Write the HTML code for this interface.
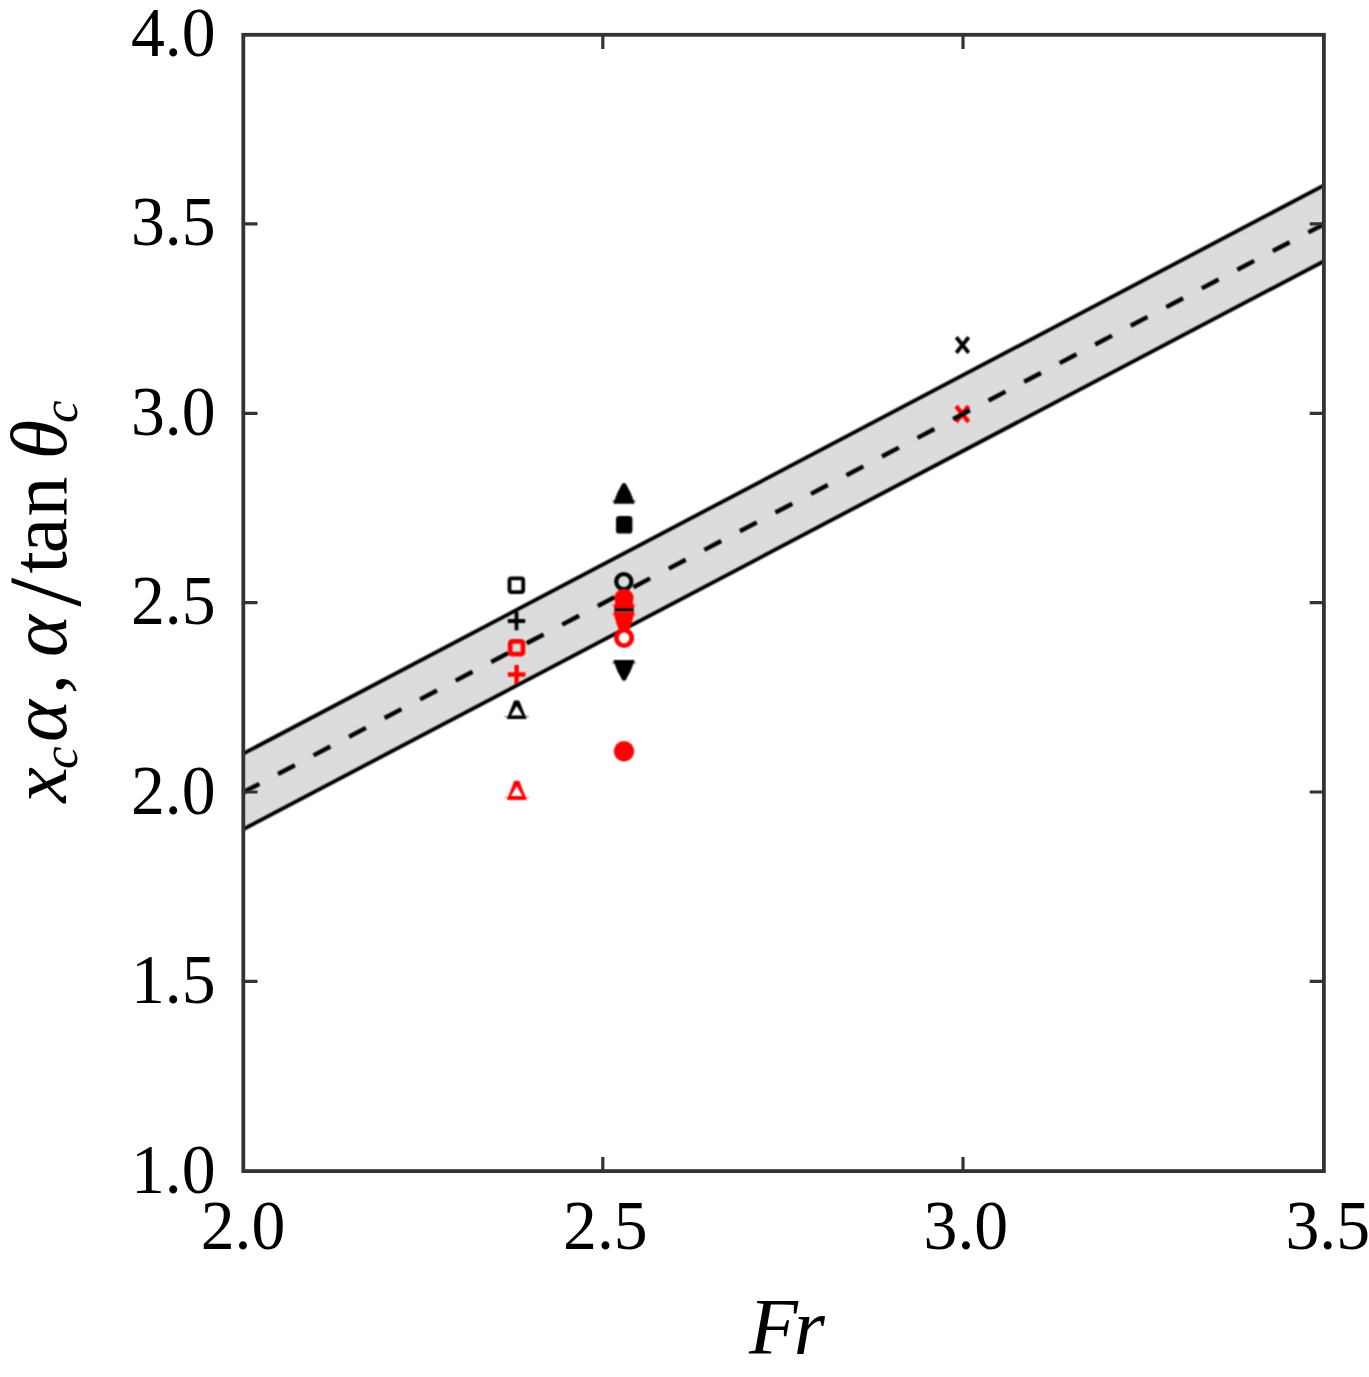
<!DOCTYPE html>
<html lang="en"><head><meta charset="utf-8"><title>Fr plot</title>
<style>html,body{margin:0;padding:0;background:#fff;}svg{display:block;}text{font-family:"Liberation Serif","DejaVu Serif",serif;fill:#000;}.it{font-style:italic;}</style></head><body>
<svg width="1369" height="1377" viewBox="0 0 1369 1377">
<defs><filter id="b" color-interpolation-filters="sRGB" filterUnits="userSpaceOnUse" x="230" y="20" width="1110" height="1165"><feConvolveMatrix order="3" kernelMatrix="1 2 1 2 4 2 1 2 1" divisor="16" edgeMode="duplicate" preserveAlpha="false"/></filter></defs>
<rect width="1369" height="1377" fill="#fff"/>
<g filter="url(#b)">
<rect x="243.3" y="34.8" width="1080.6" height="1136.3" fill="#fff"/>
<polygon transform="translate(0,-0.9)" points="243.3,754.5 1323.9,186.3 1323.9,262.1 243.3,830.2" fill="#dcdcdc"/>
<path d="M956.1 406.2L968.5 421.8M968.5 406.2L956.1 421.8" stroke="#ff0000" stroke-width="4.4" fill="none"/>
<path transform="translate(0,-0.9)" d="M243.3,754.5L1323.9,186.3M243.3,830.2L1323.9,262.1" stroke="#000" stroke-width="3.8" fill="none"/>
<path d="M243.3,792.3L1323.9,224.2" stroke="#000" stroke-width="4.4" stroke-dasharray="19 21.14" stroke-dashoffset="0.9" fill="none"/>
<path d="M956.3 337.2L968.7 352.8M968.7 337.2L956.3 352.8" stroke="#000" stroke-width="3.8" fill="none"/>
<rect x="509.5" y="578.4" width="13.7" height="13.7" rx="2" stroke="#000" stroke-width="3.8" fill="none"/>
<path d="M507.8 621.0H525.2M516.5 611.8V630.2" stroke="#000" stroke-width="3.8" fill="none"/>
<rect x="510.2" y="641.4" width="12.8" height="12.8" rx="2" stroke="#ff0000" stroke-width="4.7" fill="none"/>
<path d="M507.8 674.5H525.4M516.6 665.0V684.0" stroke="#ff0000" stroke-width="4.4" fill="none"/>
<path fill-rule="evenodd" fill="#000" d="M506.7 719.1L514.2 700.4H519.2L526.7 719.1ZM511.0 715.4L516.7 706.0L522.4 715.4Z"/>
<path d="M504.4 716.5H529.0" stroke="#000" stroke-width="1.2" fill="none" opacity="0.5"/>
<path fill-rule="evenodd" fill="#ff0000" d="M506.8 799.9L514.3 780.7H519.3L526.8 799.9ZM511.1 795.9L516.8 786.5L522.5 795.9Z"/>
<path d="M504.5 797.3H529.1" stroke="#ff0000" stroke-width="1.2" fill="none" opacity="0.5"/>
<path d="M622.5 483.3L625.5 483.3L630.5 492.5L634.4 502.5L634.4 503.7L613.6 503.7L613.6 502.5L617.5 492.5Z" fill="#000"/>
<path d="M611.8 500.7H636.2" stroke="#000" stroke-width="1.5" opacity="0.45"/>
<rect x="616" y="516" width="16.4" height="17.6" rx="3.2" fill="#000"/>
<circle cx="623.8" cy="581.6" r="7.6" stroke="#000" stroke-width="4.2" fill="none"/>
<circle cx="624" cy="598.4" r="9.6" fill="#ff0000"/>
<path d="M622.5 589.5L625.5 589.5L630.5 597.8L634.4 606.8L634.4 608.0L613.6 608.0L613.6 606.8L617.5 597.8Z" fill="#ff0000"/>
<path d="M611.8 605.0H636.2" stroke="#ff0000" stroke-width="1.5" opacity="0.45"/>
<rect x="614.4" y="608.2" width="19.3" height="3.2" fill="#000"/>
<path d="M620.0 633.0L628.0 633.0L631.6 623.4L634.4 612.8L634.4 611.6L613.6 611.6L613.6 612.8L616.4 623.4Z" fill="#ff0000"/>
<path d="M611.8 614.6H636.2" stroke="#ff0000" stroke-width="1.5" opacity="0.45"/>
<circle cx="624.1" cy="637.9" r="7.7" stroke="#ff0000" stroke-width="4.8" fill="#fff"/>
<path d="M622.5 680.4L625.5 680.4L630.5 671.3L634.4 661.3L634.4 660.1L613.6 660.1L613.6 661.3L617.5 671.3Z" fill="#000"/>
<path d="M611.8 663.1H636.2" stroke="#000" stroke-width="1.5" opacity="0.45"/>
<circle cx="624" cy="751.3" r="10.2" fill="#ff0000"/>
</g>
<rect x="243.3" y="34.8" width="1080.6" height="1136.3" fill="none" stroke="#333333" stroke-width="3.8"/>
<path d="M602.8 1171.1V1156.9M602.8 34.8V49.0M963.0 1171.1V1156.9M963.0 34.8V49.0M243.3 981.4H257.5M1323.9 981.4H1309.7M243.3 792.0H257.5M1323.9 792.0H1309.7M243.3 602.6H257.5M1323.9 602.6H1309.7M243.3 413.3H257.5M1323.9 413.3H1309.7M243.3 223.9H257.5M1323.9 223.9H1309.7" stroke="#333333" stroke-width="3.2" fill="none"/>
<text font-size="67.7" transform="translate(215.6,56.0) scale(1,1.018)" text-anchor="end">4.0</text>
<text font-size="67.7" transform="translate(215.6,245.4) scale(1,1.018)" text-anchor="end">3.5</text>
<text font-size="67.7" transform="translate(215.6,434.9) scale(1,1.018)" text-anchor="end">3.0</text>
<text font-size="67.7" transform="translate(215.6,624.3) scale(1,1.018)" text-anchor="end">2.5</text>
<text font-size="67.7" transform="translate(215.6,813.8) scale(1,1.018)" text-anchor="end">2.0</text>
<text font-size="67.7" transform="translate(215.6,1003.2) scale(1,1.018)" text-anchor="end">1.5</text>
<text font-size="67.7" transform="translate(215.6,1192.7) scale(1,1.018)" text-anchor="end">1.0</text>
<text font-size="67.7" transform="translate(200.7,1248.8) scale(1,1.018)" text-anchor="start">2.0</text>
<text font-size="67.7" transform="translate(563.1,1248.8) scale(1,1.018)" text-anchor="start">2.5</text>
<text font-size="67.7" transform="translate(923.6,1248.8) scale(1,1.018)" text-anchor="start">3.0</text>
<text font-size="67.7" transform="translate(1285.4,1248.8) scale(1,1.018)" text-anchor="start">3.5</text>
<text y="1354.1" font-size="80" class="it"><tspan x="748.9 793.7">Fr</tspan></text>
<g transform="translate(65.9,805) rotate(-90)"><text font-size="80"><tspan class="it" x="2.3" y="0">x</tspan><tspan class="it" font-size="51" x="36" y="10.7">c</tspan><tspan class="it" x="63" y="0">α</tspan><tspan x="111" y="-2">, </tspan><tspan class="it" x="148" y="0">α</tspan><tspan font-size="104" x="198.2" y="14.5">/</tspan><tspan x="231.5 251.8 288.5" y="0">tan </tspan><tspan class="it" x="345.8" y="0">θ</tspan><tspan class="it" font-size="51" x="382.1" y="10.7">c</tspan></text></g>
</svg></body></html>
